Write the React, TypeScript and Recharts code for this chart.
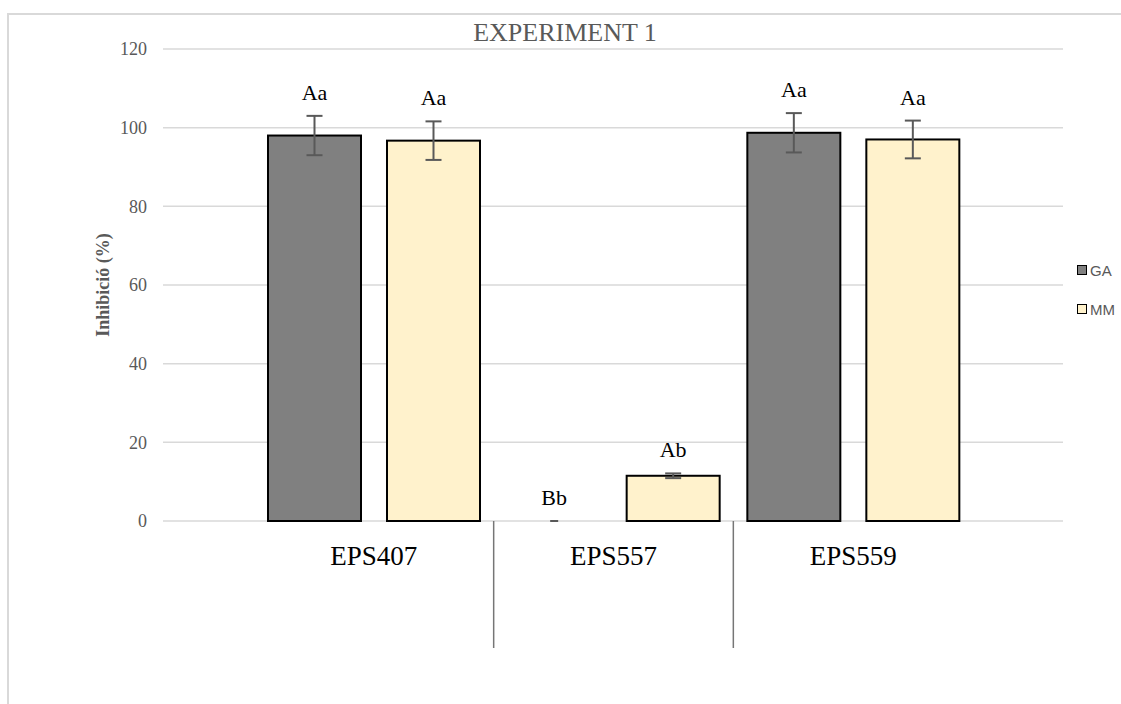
import React from 'react'
import {
  BarChart,
  Bar,
  XAxis,
  YAxis,
  CartesianGrid,
  ErrorBar,
  Legend,
} from 'recharts'

const categories = ['EPS407', 'EPS557', 'EPS559']
const gaValues = [98, 0, 98.7]
const gaErrors = [5, 0, 5]
const gaLetters = ['Aa', 'Bb', 'Aa']
const mmValues = [96.7, 11.5, 97]
const mmErrors = [4.9, 0.6, 4.8]
const mmLetters = ['Aa', 'Ab', 'Aa']
const yTicks = [0, 20, 40, 60, 80, 100, 120]

const SERIF = "'Liberation Serif', 'Times New Roman', serif"
const GREY_TEXT = '#595959'
const ERR_GREY = '#595959'

const W = 1121
const H = 704
const PLOT_LEFT = 163
const PLOT_RIGHT = 1063
const PLOT_TOP = 49
const PLOT_BOTTOM = 521
const Y_MAX = 120
const PAD_L = 91
const PAD_R = 90
const BAND = (PLOT_RIGHT - PLOT_LEFT - PAD_L - PAD_R) / categories.length
const PX_PER_UNIT = (PLOT_BOTTOM - PLOT_TOP) / Y_MAX

const data = categories.map((name, i) => ({
  name,
  ga: gaValues[i],
  gaErr: gaErrors[i],
  gaLetter: gaLetters[i],
  mm: mmValues[i],
  mmErr: mmErrors[i],
  mmLetter: mmLetters[i],
}))

// bar rect + significance letter above the error bar
function barWithLetter(errKey: string, letterKey: string) {
  return (props: any) => {
    const { x, y, width, height, fill, payload } = props
    const err = payload[errKey] || 0
    const top = y - err * PX_PER_UNIT
    const cx = x + width / 2
    return (
      <g>
        {height > 0 ? (
          <rect x={x} y={y} width={width} height={height} fill={fill} stroke="#000" strokeWidth={2} />
        ) : (
          // zero bar: Excel still draws the flat error cap
          <line x1={cx - 4} x2={cx + 4} y1={y} y2={y} stroke={ERR_GREY} strokeWidth={2} />
        )}
        <text x={cx} y={top - 16} textAnchor="middle" fontFamily={SERIF} fontSize={22} fill="#000">
          {payload[letterKey]}
        </text>
      </g>
    )
  }
}

function CategoryTick(props: any) {
  const { x, y, payload } = props
  return (
    <g>
      <text x={x} y={y + 44} textAnchor="middle" fontFamily={SERIF} fontSize={27} fill="#000">
        {payload.value}
      </text>
      {payload.index > 0 && (
        <line
          x1={x - BAND / 2}
          x2={x - BAND / 2}
          y1={y}
          y2={y + 127}
          stroke="#767676"
          strokeWidth={1.5}
        />
      )}
    </g>
  )
}

function LegendBox() {
  const items = [
    { name: 'GA', fill: '#808080' },
    { name: 'MM', fill: '#fff2cc' },
  ]
  return (
    <div style={{ fontFamily: "'Liberation Sans', Arial, sans-serif", fontSize: 15, color: GREY_TEXT }}>
      {items.map((it) => (
        <div key={it.name} style={{ display: 'flex', alignItems: 'center', height: 20, marginBottom: 19 }}>
          <span
            style={{
              display: 'inline-block',
              width: 8,
              height: 8,
              background: it.fill,
              border: '1.5px solid #000',
              marginRight: 3,
            }}
          />
          {it.name}
        </div>
      ))}
    </div>
  )
}

export default function App() {
  return (
    <div style={{ position: 'fixed', left: 0, top: 0, width: W, height: H, overflow: 'hidden', background: '#fff' }}>
      <div
        style={{
          position: 'absolute',
          left: 7,
          top: 13,
          width: 1300,
          height: 900,
          borderTop: '2px solid #d9d9d9',
          borderLeft: '2px solid #d9d9d9',
        }}
      />
      <div
        style={{
          position: 'absolute',
          left: 365,
          top: 20,
          width: 400,
          textAlign: 'center',
          fontFamily: SERIF,
          fontSize: 26,
          lineHeight: '26px',
          color: GREY_TEXT,
        }}
      >
        EXPERIMENT 1
      </div>
      <div style={{ position: 'absolute', left: 0, top: 0 }}>
        <BarChart
          width={W}
          height={H}
          data={data}
          margin={{ top: PLOT_TOP, right: W - PLOT_RIGHT, left: 0, bottom: 0 }}
          barSize={93}
          barGap={26}
        >
          <CartesianGrid horizontal vertical={false} stroke="#d9d9d9" strokeWidth={1.5} />
          <XAxis
            dataKey="name"
            height={H - PLOT_BOTTOM}
            padding={{ left: PAD_L, right: PAD_R }}
            axisLine={false}
            tickLine={false}
            tickSize={0}
            tickMargin={0}
            tick={<CategoryTick />}
            interval={0}
          />
          <YAxis
            width={PLOT_LEFT}
            domain={[0, Y_MAX]}
            ticks={yTicks}
            axisLine={false}
            tickLine={false}
            tickSize={0}
            tickMargin={16}
            tick={{ fontFamily: SERIF, fontSize: 18, fill: GREY_TEXT }}
            label={{
              value: 'Inhibició (%)',
              angle: -90,
              position: 'insideLeft',
              dx: 98,
              dy: 0,
              style: { fontFamily: SERIF, fontSize: 18, fontWeight: 700, fill: GREY_TEXT, textAnchor: 'middle' },
            }}
          />
          <Legend
            layout="vertical"
            align="center"
            verticalAlign="middle"
            content={<LegendBox />}
            wrapperStyle={{ left: 1077, top: 260, width: 60 }}
          />
          <Bar
            dataKey="ga"
            name="GA"
            fill="#808080"
            shape={barWithLetter('gaErr', 'gaLetter')}
            isAnimationActive={false}
          >
            <ErrorBar dataKey="gaErr" width={8} stroke={ERR_GREY} strokeWidth={2} isAnimationActive={false} />
          </Bar>
          <Bar
            dataKey="mm"
            name="MM"
            fill="#fff2cc"
            shape={barWithLetter('mmErr', 'mmLetter')}
            isAnimationActive={false}
          >
            <ErrorBar dataKey="mmErr" width={8} stroke={ERR_GREY} strokeWidth={2} isAnimationActive={false} />
          </Bar>
        </BarChart>
      </div>
    </div>
  )
}
